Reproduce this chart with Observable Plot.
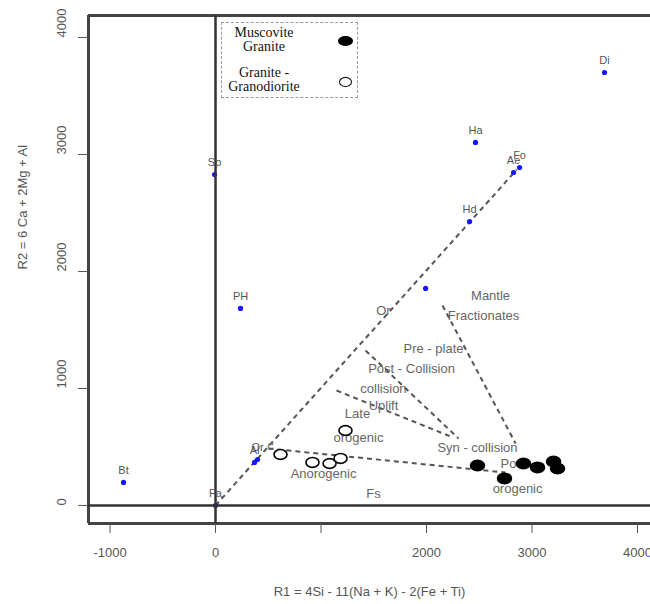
<!DOCTYPE html>
<html>
<head>
<meta charset="utf-8">
<script src="https://cdn.jsdelivr.net/npm/d3@7"></script>
<script src="https://cdn.jsdelivr.net/npm/@observablehq/plot@0.6"></script>
<style>
  html, body { margin: 0; padding: 0; background: #fff; }
  #wrap { position: relative; width: 650px; height: 604px; overflow: hidden; }
  #legend { position: absolute; left: 221px; top: 22px; width: 135px; height: 74px;
    border: 1px dashed #999; font-family: "Liberation Serif", "Times New Roman", serif;
    font-size: 14px; color: #111; line-height: 14px; }
  .lg { position: absolute; text-align: center; }
  .ell { position: absolute; border-radius: 50%; border: 1.5px solid #000; box-sizing: border-box; }
</style>
</head>
<body>
<div id="wrap"></div>
<script>
// ---- data ----
const xTicks = [-1000, 0, 1000, 2000, 3000, 4000];
const xTickLabels = ["-1000", "0", "", "2000", "3000", "4000"];
const yTicks = [0, 1000, 2000, 3000, 4000];
const yTickLabels = ["0", "1000", "2000", "3000", "4000"];
const xDomain = [-1204, 4123];
const yDomain = [-154, 4188];
const xTitle = "R1 = 4Si - 11(Na + K) - 2(Fe + Ti)";
const yTitle = "R2 = 6 Ca + 2Mg + Al";

// end-member minerals (blue dots)
const mineralNames = ["Di", "Ha", "Ae", "Fo", "Hd", "Sp", "PH", "", "Al", "Or", "Bt", "Fa"];
const mineralR1 = [3687, 2464, 2825, 2882, 2408, -9, 237, 1991, 370, 398, -872, 0];
const mineralR2 = [3701, 3103, 2846, 2889, 2427, 2829, 1684, 1855, 368, 393, 197, 0];

// samples
const muscoviteR1 = [2483, 2739, 2919, 3052, 3204, 3242];
const muscoviteR2 = [342, 231, 359, 325, 376, 316];
const granodioriteR1 = [1232, 616, 919, 1081, 1185];
const granodioriteR2 = [641, 436, 368, 359, 402];

// dashed field boundaries
const lineX1 = [0, 502, 2152, 1422, 1147];
const lineY1 = [0, 487, 1709, 1325, 983];
const lineX2 = [2855, 2749, 2844, 2303, 2227];
const lineY2 = [2870, 282, 530, 573, 590];

// field labels
const fieldLabels = ["Mantle", "Fractionates", "Pre - plate", "Post - Collision", "collision", "Uplift",
  "Late", "orogenic", "Syn - collision", "Post", "orogenic", "Anorogenic", "Fs", "Or", "c"];
const fieldR1 = [2607, 2540, 2066, 1858, 1592, 1592, 1346, 1355, 2483, 2825, 2863, 1024, 1498, 1592, 521];
const fieldR2 = [1795, 1624, 1342, 1171, 1000, 855, 786, 581, 496, 359, 145, 274, 103, 1667, 513];

// ---- build tables ----
const minerals = mineralNames.map((n, i) => ({name: n, x: mineralR1[i], y: mineralR2[i]}));
const musc = muscoviteR1.map((x, i) => ({x, y: muscoviteR2[i]}));
const grano = granodioriteR1.map((x, i) => ({x, y: granodioriteR2[i]}));
const lines = lineX1.map((x, i) => ({x1: x, y1: lineY1[i], x2: lineX2[i], y2: lineY2[i]}));
const fields = fieldLabels.map((t, i) => ({t, x: fieldR1[i], y: fieldR2[i]}));
const yLabelRows = yTicks.map((v, i) => ({v, t: yTickLabels[i]}));

const ellipse = {
  draw(context, size) {
    const r = Math.sqrt(size / Math.PI);
    const rx = r * 1.3, ry = r * 0.98, k = 0.5523;
    context.moveTo(rx, 0);
    context.bezierCurveTo(rx, k * ry, k * rx, ry, 0, ry);
    context.bezierCurveTo(-k * rx, ry, -rx, k * ry, -rx, 0);
    context.bezierCurveTo(-rx, -k * ry, -k * rx, -ry, 0, -ry);
    context.bezierCurveTo(k * rx, -ry, rx, -k * ry, rx, 0);
    context.closePath();
  }
};

const frameColor = "#444";
const chart = Plot.plot({
  width: 650,
  height: 604,
  marginLeft: 88,
  marginRight: 0,
  marginTop: 15,
  marginBottom: 81,
  style: {fontFamily: "'Liberation Sans', Arial, sans-serif", background: "#fff"},
  x: {domain: xDomain},
  y: {domain: yDomain},
  marks: [
    // dashed boundaries
    Plot.link(lines, {x1: "x1", y1: "y1", x2: "x2", y2: "y2", stroke: "#555", strokeWidth: 2, strokeDasharray: "5,4"}),
    // minerals
    Plot.dot(minerals, {x: "x", y: "y", r: 2.6, fill: "#1414ff"}),
    // frame (top, left, bottom)
    Plot.ruleY([yDomain[1]], {stroke: frameColor, strokeWidth: 3}),
    Plot.ruleY([yDomain[0]], {stroke: frameColor, strokeWidth: 3}),
    Plot.ruleX([xDomain[0]], {stroke: frameColor, strokeWidth: 3}),
    // zero lines
    Plot.ruleX([0], {stroke: "#333", strokeWidth: 2.5}),
    Plot.ruleY([0], {stroke: "#333", strokeWidth: 2.5}),
    // axes
    Plot.axisX({ticks: xTicks, tickSize: 10, tickPadding: 14, stroke: "#555", fill: "#555", fontSize: 13,
      tickFormat: (d) => xTickLabels[xTicks.indexOf(d)], label: null}),
    Plot.axisY({ticks: yTicks, tickSize: 10, stroke: "#555", tickFormat: () => "", label: null}),
    Plot.text(yLabelRows, {y: "v", text: "t", frameAnchor: "left", dx: -27, rotate: -90, fill: "#555", fontSize: 13}),
    Plot.text([yTitle], {text: (d) => d, frameAnchor: "left", dx: -66, rotate: -90, fill: "#555", fontSize: 13}),
    Plot.text([xTitle], {text: (d) => d, frameAnchor: "bottom", dy: 72, fill: "#555", fontSize: 13}),
    // field labels
    Plot.text(fields, {x: "x", y: "y", text: "t", fill: "#666", fontSize: 13}),
    // mineral labels
    Plot.text(minerals, {x: "x", y: "y", text: "name", dy: -12, fill: "#555", fontSize: 11}),
    // samples
    Plot.dot(grano, {x: "x", y: "y", r: 5, symbol: ellipse, fill: "#fff", stroke: "#000", strokeWidth: 1.6}),
    Plot.dot(musc, {x: "x", y: "y", r: 5.4, symbol: ellipse, fill: "#000", stroke: "#000"})
  ]
});

const wrap = document.getElementById("wrap");
wrap.appendChild(chart);

// legend (overlay)
const legendItems = [
  {label: "Muscovite<br>Granite", top: 3, filled: true},
  {label: "Granite -<br>Granodiorite", top: 43, filled: false}
];
const lg = document.createElement("div");
lg.id = "legend";
legendItems.forEach((it) => {
  const t = document.createElement("div");
  t.className = "lg";
  t.innerHTML = it.label;
  t.style.left = "0px";
  t.style.width = "84px";
  t.style.top = it.top + "px";
  lg.appendChild(t);
  const e = document.createElement("div");
  e.className = "ell";
  e.style.left = (it.filled ? 116 : 117) + "px";
  e.style.width = (it.filled ? 15 : 13) + "px";
  e.style.height = "10px";
  e.style.top = (it.filled ? 13 : 54) + "px";
  e.style.background = it.filled ? "#000" : "#fff";
  lg.appendChild(e);
});
wrap.appendChild(lg);
</script>
</body>
</html>
